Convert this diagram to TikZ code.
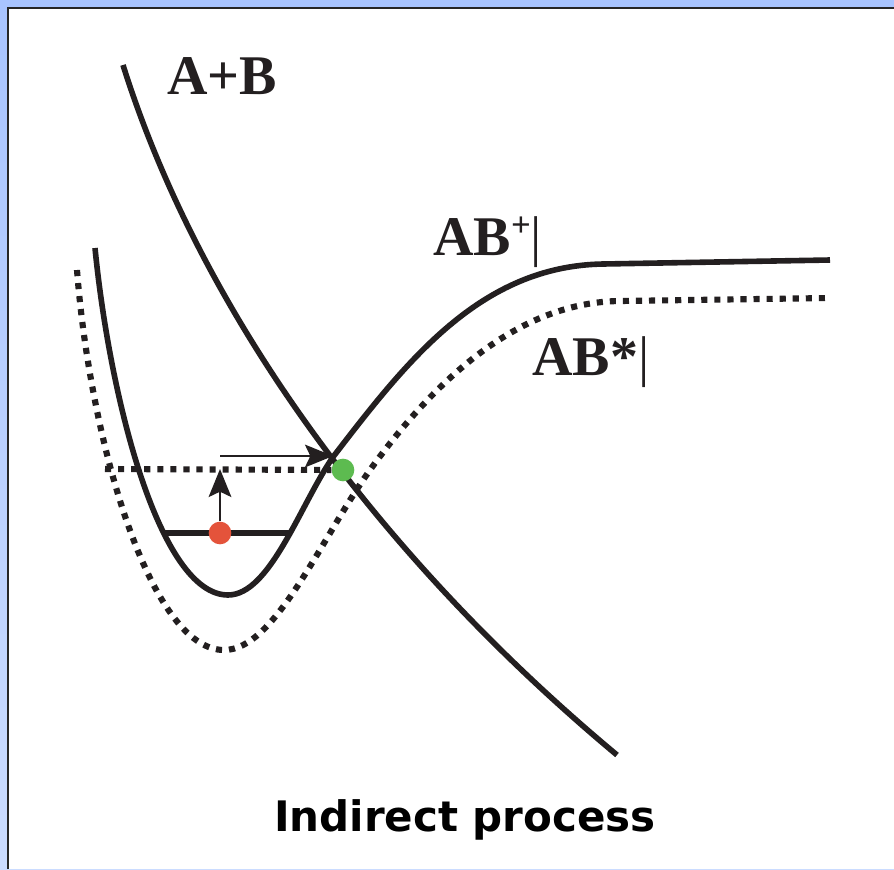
\documentclass[tikz,border=0pt]{standalone}
\usepackage{fontspec}
\setmainfont{Liberation Serif}
\newfontfamily\captionfont{DejaVu Sans}
\usetikzlibrary{arrows.meta, positioning}

\definecolor{curveblack}{HTML}{231F20}
\definecolor{dotred}{HTML}{E4533B}
\definecolor{dotgreen}{HTML}{5DBB50}
\definecolor{slidetop}{HTML}{A8C4FF}
\definecolor{slidebottom}{HTML}{CBDCFF}

\begin{document}
\begin{tikzpicture}[x=0.75pt, y=-0.75pt,
    state curve/.style={draw=curveblack, line width=4.2pt},
    excited curve/.style={draw=curveblack, line width=4.6pt, dash pattern=on 4.6pt off 5.2pt},
    level line/.style={draw=curveblack, line width=4.2pt},
    jump arrow/.style={draw=curveblack, line width=1.7pt, -{Stealth[length=21pt, width=17pt, inset=4pt]}},
    state dot/.style={circle, inner sep=0pt, minimum size=17pt},
    curve label/.style={font=\fontsize{42}{42}\selectfont\bfseries, text=curveblack, inner sep=0pt, anchor=base west}]
    \useasboundingbox (0,0) rectangle (894,869);
    \shade[top color=slidetop, bottom color=slidebottom] (0,0) rectangle (894,869);
    \fill[white] (8,8) rectangle (894,869);
    \draw[black!85, line width=1.6pt] (8,869) -- (8,8) -- (894,8);

    \draw[state curve] (123,65) .. controls (200,310) and (377,555) .. (617,755);
    \draw[state curve] (95,248) .. controls (110,400) and (160,595) .. (228,595)
        .. controls (270,595) and (300,505) .. (333,457)
        .. controls (406,362) and (480,266) .. (603,264) -- (830,260);
    \draw[excited curve] (77,270) .. controls (90,440) and (150,650) .. (224,650)
        .. controls (275,650) and (320,540) .. (370,470)
        .. controls (436,378) and (520,302) .. (620,301) -- (830,298);

    \node[curve label] (ab) at (167,94) {A+B};
    \node[curve label] (abion) at (433,255) {AB\raisebox{14pt}{\fontsize{26}{26}\selectfont +}\textmd{|}};
    \node[curve label] (abexc) at (532,375) {AB*\textmd{|}};

    \coordinate (lvlstart) at (105,469);
    \coordinate (lvlleft) at (162,533);
    \coordinate (lvlright) at (290,533);
    \coordinate (vtip) at (220,469);
    \coordinate (hstart) at (220,456);
    \coordinate (cross) at (333,456);

    \draw[level line] (lvlleft) -- (lvlright);
    \node[state dot, fill=dotred] (reddot) at (220,533) {};
    \node[state dot, fill=dotgreen] (greendot) at (343,470) {};
    \draw[excited curve] (lvlstart) -- (greendot);
    \draw[jump arrow] (reddot) -- (vtip);
    \draw[jump arrow] (hstart) -- (cross);

    \node[font=\captionfont\bfseries\fontsize{31.5}{31.5}\selectfont, anchor=base] (caption) at (465,831) {Indirect process};
\end{tikzpicture}
\end{document}
